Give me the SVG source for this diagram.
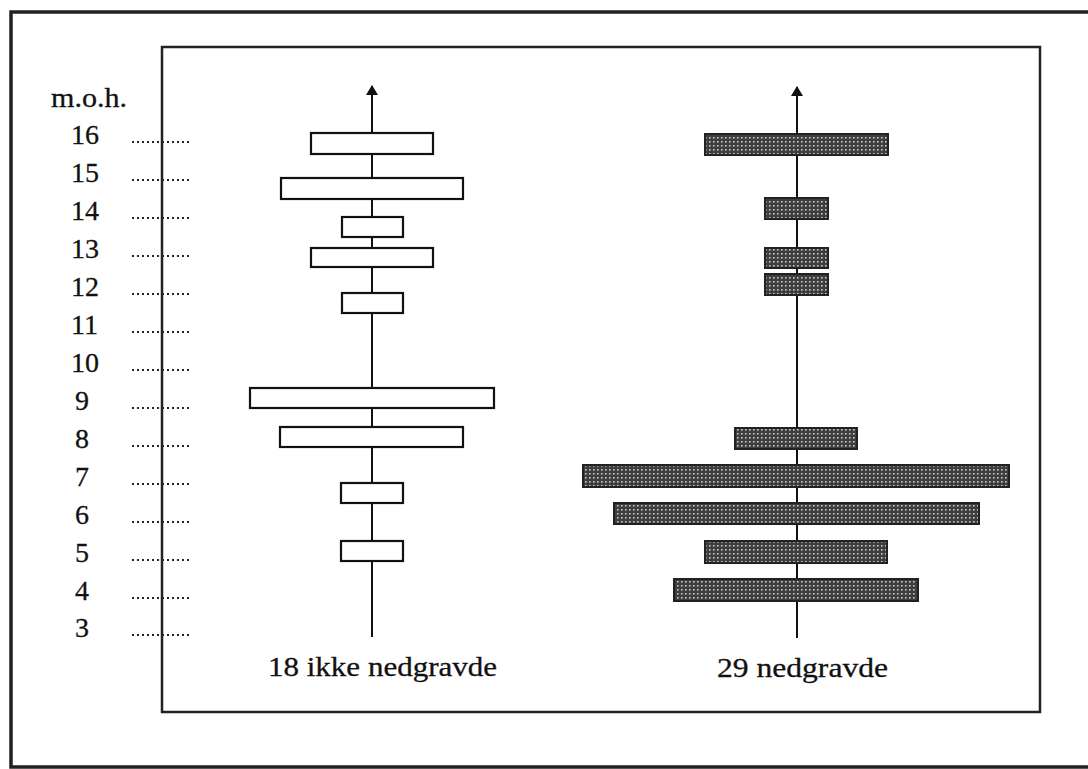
<svg xmlns="http://www.w3.org/2000/svg" width="1088" height="769" viewBox="0 0 1088 769">
<style>
  .lbl { font-family: "Liberation Serif", "Times New Roman", serif; font-size: 28px; fill: #111; stroke: #111; stroke-width: 0.3; }
  .frame { fill: none; stroke: #222; }
  .axis { stroke: #111; stroke-width: 2; fill: none; }
  .dots { stroke: #222; stroke-width: 2; stroke-dasharray: 2 3; }
  .open { fill: #fff; stroke: #111; stroke-width: 2.2; }
  .filled { fill: url(#dotfill); stroke: #222; stroke-width: 2; }
</style>
<defs>
  <pattern id="dotfill" width="4" height="4" patternUnits="userSpaceOnUse">
    <rect width="4" height="4" fill="#3e3e3e"/>
    <rect x="1" y="1" width="1.6" height="1.6" fill="#c8c8c8"/>
  </pattern>
  <marker id="arrow" viewBox="0 0 10 12" refX="9" refY="6" markerWidth="10" markerHeight="12" markerUnits="userSpaceOnUse" orient="auto">
    <path d="M0,0 L10,6 L0,12 Z" fill="#111"/>
  </marker>
</defs>
<rect width="1088" height="769" fill="#fff"/>
<g id="outer-frame">
  <path class="frame" stroke-width="3.5" d="M1090,12 H11 V767 H1090"/>
</g>
<g id="inner-frame">
  <rect class="frame" stroke-width="2.5" x="162" y="47" width="878" height="665"/>
</g>
<g id="y-labels">
  <text class="lbl" x="51" y="107" textLength="76" lengthAdjust="spacingAndGlyphs">m.o.h.</text>
  <text class="lbl" x="71" y="144">16</text>
  <text class="lbl" x="71" y="182">15</text>
  <text class="lbl" x="71" y="220">14</text>
  <text class="lbl" x="71" y="258">13</text>
  <text class="lbl" x="71" y="296">12</text>
  <text class="lbl" x="71" y="334">11</text>
  <text class="lbl" x="71" y="372">10</text>
  <text class="lbl" x="75" y="410">9</text>
  <text class="lbl" x="75" y="448">8</text>
  <text class="lbl" x="75" y="486">7</text>
  <text class="lbl" x="75" y="524">6</text>
  <text class="lbl" x="75" y="562">5</text>
  <text class="lbl" x="75" y="600">4</text>
  <text class="lbl" x="75" y="637">3</text>
</g>
<g id="tick-dots">
  <line class="dots" x1="132" y1="142" x2="190" y2="142"/>
  <line class="dots" x1="132" y1="180" x2="190" y2="180"/>
  <line class="dots" x1="132" y1="218" x2="190" y2="218"/>
  <line class="dots" x1="132" y1="256" x2="190" y2="256"/>
  <line class="dots" x1="132" y1="294" x2="190" y2="294"/>
  <line class="dots" x1="132" y1="332" x2="190" y2="332"/>
  <line class="dots" x1="132" y1="370" x2="190" y2="370"/>
  <line class="dots" x1="132" y1="408" x2="190" y2="408"/>
  <line class="dots" x1="132" y1="446" x2="190" y2="446"/>
  <line class="dots" x1="132" y1="484" x2="190" y2="484"/>
  <line class="dots" x1="132" y1="522" x2="190" y2="522"/>
  <line class="dots" x1="132" y1="560" x2="190" y2="560"/>
  <line class="dots" x1="132" y1="598" x2="190" y2="598"/>
  <line class="dots" x1="132" y1="635" x2="190" y2="635"/>
</g>
<g id="connectors">
  <line class="axis" x1="372" y1="637" x2="372" y2="86" marker-end="url(#arrow)"/>
  <line class="axis" x1="797" y1="638" x2="797" y2="87" marker-end="url(#arrow)"/>
</g>
<g id="left-bars">
  <rect class="open" x="311" y="133" width="122" height="21"/>
  <rect class="open" x="281" y="178" width="182" height="21"/>
  <rect class="open" x="342" y="217" width="61" height="20"/>
  <rect class="open" x="311" y="248" width="122" height="19"/>
  <rect class="open" x="342" y="293" width="61" height="20"/>
  <rect class="open" x="250" y="388" width="244" height="20"/>
  <rect class="open" x="280" y="427" width="183" height="20"/>
  <rect class="open" x="341" y="483" width="62" height="20"/>
  <rect class="open" x="341" y="541" width="62" height="20"/>
</g>
<g id="right-bars">
  <rect class="filled" x="705" y="134" width="183" height="21"/>
  <rect class="filled" x="765" y="198" width="63" height="21"/>
  <rect class="filled" x="765" y="248" width="63" height="20"/>
  <rect class="filled" x="765" y="274" width="63" height="21"/>
  <rect class="filled" x="735" y="428" width="122" height="21"/>
  <rect class="filled" x="583" y="465" width="426" height="22"/>
  <rect class="filled" x="614" y="503" width="365" height="21"/>
  <rect class="filled" x="705" y="541" width="182" height="22"/>
  <rect class="filled" x="674" y="579" width="244" height="22"/>
</g>
<g id="bottom-labels">
  <text class="lbl" x="268" y="676" textLength="229" lengthAdjust="spacingAndGlyphs">18 ikke nedgravde</text>
  <text class="lbl" x="717" y="677" textLength="171" lengthAdjust="spacingAndGlyphs">29 nedgravde</text>
</g>
</svg>
